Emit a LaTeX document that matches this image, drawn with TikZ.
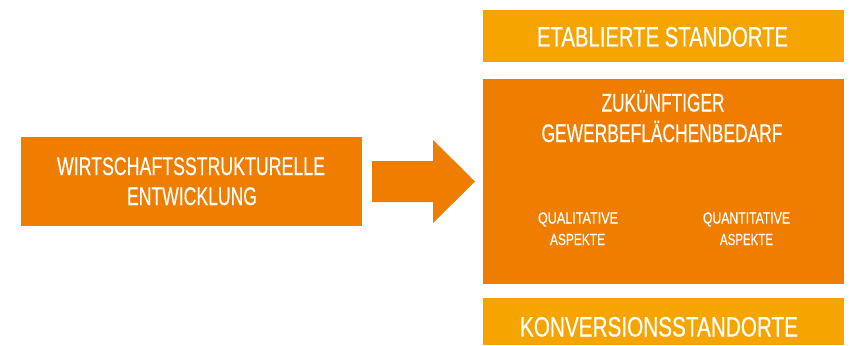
\documentclass[tikz,border=0pt]{standalone}
\usepackage{fontspec}
\setmainfont[FakeBold=0.5]{Liberation Sans}
\usepackage{graphicx}
\definecolor{darkor}{RGB}{238,125,0}
\definecolor{lightor}{RGB}{245,164,0}
\newcommand{\fitw}[2]{\resizebox{#1}{\height}{#2}}
\begin{document}
\begin{tikzpicture}[x=1pt,y=-1pt,
  panel/.style={inner sep=0pt, outer sep=0pt, anchor=north west, draw=none},
  lbl/.style={inner sep=0pt, outer sep=0pt, anchor=base, text=white},
  big/.style={lbl, font=\fontsize{28}{28}\selectfont},
  mid/.style={lbl, font=\fontsize{25.5}{25.5}\selectfont},
  small/.style={lbl, font=\fontsize{16}{16}\selectfont}]
\useasboundingbox (0,0) rectangle (850,345);
% boxes
\node[panel, fill=darkor, minimum width=341pt, minimum height=89pt] (left) at (21,137) {};
\node[panel, fill=lightor, minimum width=361pt, minimum height=52pt] (top) at (483,10) {};
\node[panel, fill=darkor, minimum width=361pt, minimum height=205pt] (main) at (483,79) {};
\node[panel, fill=lightor, minimum width=361pt, minimum height=47pt] (bot) at (483,298) {};
% block arrow
\fill[darkor] (372,161) -- (433,161) -- (433,140) -- (475,181.5) -- (433,223) -- (433,202) -- (372,202) -- cycle;
% texts
\node[big] (etab) at (662.5,46.5) {\fitw{251pt}{ETABLIERTE STANDORTE}};
\node[mid] (zuk) at (663,111.5) {\fitw{123pt}{ZUKÜNFTIGER}};
\node[mid] (gew) at (662,142) {\fitw{241pt}{GEWERBEFLÄCHENBEDARF}};
\node[small] (qual1) at (578,223.5) {\fitw{80pt}{QUALITATIVE}};
\node[small] (qual2) at (577.5,245) {\fitw{55pt}{ASPEKTE}};
\node[small] (quan1) at (746.5,223.5) {\fitw{87pt}{QUANTITATIVE}};
\node[small] (quan2) at (746.5,245) {\fitw{53pt}{ASPEKTE}};
\node[mid] (wirt1) at (191,175) {\fitw{268pt}{WIRTSCHAFTSSTRUKTURELLE}};
\node[mid] (wirt2) at (192,205) {\fitw{130pt}{ENTWICKLUNG}};
\node[big] (konv) at (659,336.5) {\fitw{278pt}{KONVERSIONSSTANDORTE}};
\end{tikzpicture}
\end{document}
